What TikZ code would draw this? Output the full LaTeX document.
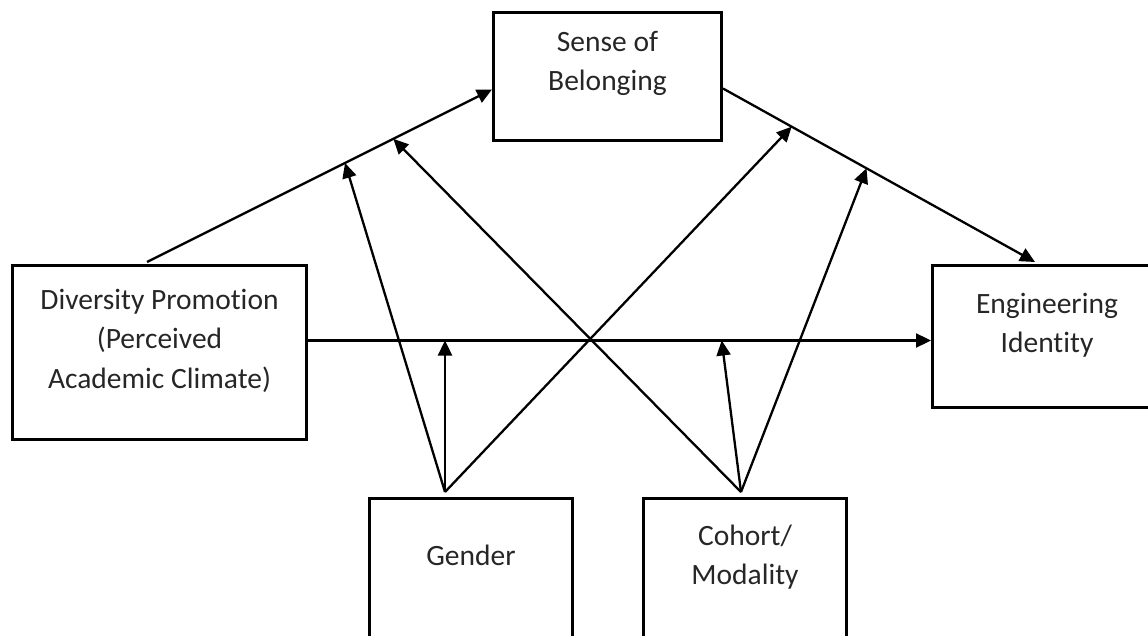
\documentclass[tikz,border=0pt]{standalone}
\usepackage{fontspec}
\setmainfont{Carlito}[Ligatures=NoCommon]
\usetikzlibrary{arrows.meta,calc}
\begin{document}
\begin{tikzpicture}[x=1pt,y=1pt,
  box/.style={draw=black,line width=3pt,rectangle,inner sep=0pt,anchor=north west},
  lbl/.style={text=black!85,align=center,inner sep=0pt,anchor=north,
    font=\fontsize{29.5}{39.5}\selectfont},
  conn/.style={line width=2.3pt,draw=black},
  arr/.style={conn,-{Triangle[length=15pt,width=14pt]}}]
\useasboundingbox (0,0) rectangle (1148,-636);
\clip (0,0) rectangle (1148,-636);
% boxes
\node[box,minimum width=228pt,minimum height=128pt] (SoB) at (492,-11) {};
\node[box,minimum width=294pt,minimum height=174pt] (Div) at (11,-264) {};
\node[box,minimum width=229pt,minimum height=142pt] (Eng) at (931,-264) {};
\node[box,minimum width=203pt,minimum height=170pt] (Gen) at (368,-497) {};
\node[box,minimum width=203pt,minimum height=170pt] (Coh) at (642,-497) {};
% labels
\node[lbl] (SoBt) at ($(SoB.north)+(0,-19.6)$) {Sense of\\Belonging};
\node[lbl] (Divt) at ($(Div.north)+(0,-24.6)$) {Diversity Promotion\\(Perceived\\Academic Climate)};
\node[lbl] (Engt) at ($(Eng.north)+(0,-28.6)$) {Engineering\\Identity};
\node[lbl] (Gent) at ($(Gen.north)+(0,-47.6)$) {Gender};
\node[lbl] (Coht) at ($(Coh.north)+(0,-27.6)$) {Cohort/\\Modality};
% connector end points
\coordinate (a1) at ($(Div.north west)+(136,2)$);
\coordinate (a2) at ($(SoB.west)+(0,-13)$);
\coordinate (b1) at ($(SoB.east)+(0,-12)$);
\coordinate (b2) at ($(Eng.north west)+(104,2)$);
\coordinate (c1) at ($(Div.east)+(0,12)$);
\coordinate (g0) at ($(Gen.north west)+(77,5)$);
\coordinate (h0) at ($(Coh.north west)+(99,5)$);
% main paths
\draw[arr] (a1) -- (a2) coordinate[pos=0.574] (pA1) coordinate[pos=0.714] (pA2);
\draw[arr] (b1) -- (b2) coordinate[pos=0.22] (pB1) coordinate[pos=0.46] (pB2);
\draw[arr] (c1) -- (c1 -| Eng.west) coordinate[pos=0.224] (pC1) coordinate[pos=0.664] (pC2);
% moderators
\draw[arr] (g0) -- (g0 |- pC1);
\draw[arr] (g0) -- (pA1);
\draw[arr] (g0) -- (pB1);
\draw[arr] (h0) -- (pC2);
\draw[arr] (h0) -- (pB2);
\draw[arr] (h0) -- (pA2);
\end{tikzpicture}
\end{document}
